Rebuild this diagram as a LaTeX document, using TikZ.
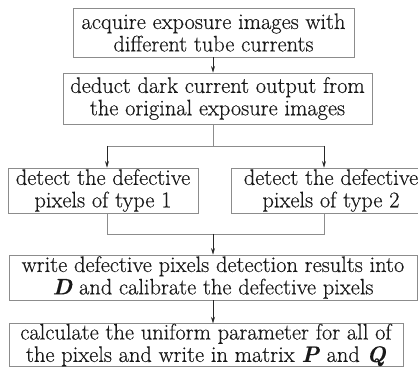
\documentclass[tikz,border=0pt]{standalone}
\usepackage{fontspec}
\setmainfont{Latin Modern Roman}[FakeBold=0.35]
\usetikzlibrary{arrows.meta}
\begin{document}
\begin{tikzpicture}[x=0.75pt,y=-0.75pt,
  box/.style={draw=black!45,line width=0.5pt,inner sep=0pt,align=center,font=\fontsize{16.8}{16.8}\selectfont,text=black!90},
  arr/.style={-{Stealth[length=5pt,width=3pt]},line width=0.5pt,black!85},
  conn/.style={line width=0.5pt,black!45}]
\useasboundingbox (0,0) rectangle (418,370);
\node[box,minimum width={281*0.75pt},minimum height={49*0.75pt}] (b1) at (213.5,32.5) {acquire exposure images with\\different tube currents};
\node[box,minimum width={309*0.75pt},minimum height={51*0.75pt}] (b2) at (217.5,98.5) {deduct dark current output from\\the original exposure images};
\node[box,minimum width={190*0.75pt},minimum height={45*0.75pt}] (b3) at (103,190.5) {detect the defective\\pixels of type 1};
\node[box,minimum width={200*0.75pt},minimum height={45*0.75pt}] (b4) at (331,190.5) {detect the defective\\pixels of type 2};
\node[box,minimum width={408*0.75pt},minimum height={45*0.75pt}] (b5) at (213,277.5) {write defective pixels detection results into\\\textbf{\textit{D}} and calibrate the defective pixels};
\node[box,minimum width={394*0.75pt},minimum height={42*0.75pt}] (b6) at (206,345) {calculate the uniform parameter for all of\\the pixels and write in matrix \textbf{\textit{P}} and \textbf{\textit{Q}}};
\coordinate (t1) at (213,58);
\coordinate (t2) at (213,124);
\coordinate (j1) at (213,146);
\coordinate (jl) at (107,146);
\coordinate (jr) at (324,146);
\coordinate (bl) at (107,234);
\coordinate (br) at (324,234);
\coordinate (j2) at (213,234);
\draw[arr] (b1.south -| t1) -- (b2.north -| t1);
\draw[conn] (b2.south -| t2) -- (j1);
\draw[conn] (jl) -- (jr);
\draw[arr] (jl) -- (b3.north -| jl);
\draw[arr] (jr) -- (b4.north -| jr);
\draw[conn] (b3.south -| bl) -- (bl) -- (br) -- (b4.south -| br);
\draw[arr] (j2) -- (b5.north -| j2);
\draw[arr] (b5.south -| j2) -- (b6.north -| j2);
\end{tikzpicture}
\end{document}
